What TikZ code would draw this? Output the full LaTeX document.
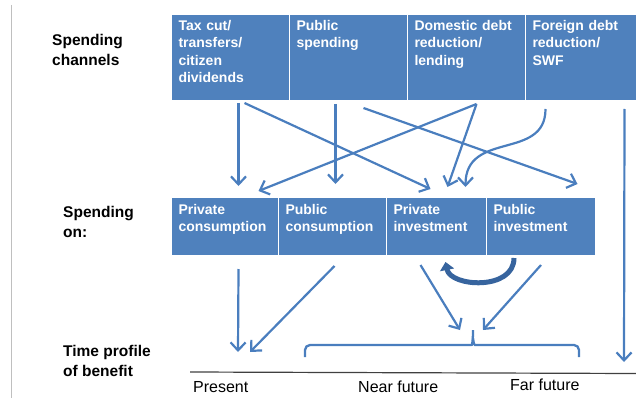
\documentclass[tikz,border=0pt]{standalone}
\usepackage{fontspec}
\setmainfont{Liberation Sans}
\usetikzlibrary{arrows.meta,calc}
\definecolor{boxblue}{RGB}{79,129,189}
\definecolor{flowblue}{RGB}{74,126,190}
\definecolor{loopblue}{RGB}{55,100,158}
\tikzset{
  chan/.style={draw=white, line width=1pt, fill=boxblue, text=white, anchor=north west,
    font=\bfseries\fontsize{14}{17.4}\selectfont, align=left, text width=104pt,
    text height=11pt, text depth=65pt, inner xsep=7pt, inner ysep=5pt},
  spend/.style={chan, text width=#1, text height=12pt, text depth=36pt},
  rowlabel/.style={anchor=base west, inner sep=0pt, align=left,
    font=\bfseries\fontsize{15.5}{19.5}\selectfont},
  timelabel/.style={anchor=base west, inner sep=0pt, font=\fontsize{16}{19}\selectfont},
  flow/.style={draw=flowblue, line width=2.2pt, -{Straight Barb[length=8pt,width=15pt]}},
  feedback/.style={draw=loopblue, line width=5pt, -{Triangle[length=8pt,width=14pt]}},
  bracket/.style={draw=flowblue, line width=2.3pt, rounded corners=5pt},
}
\begin{document}
\begin{tikzpicture}[x=1pt,y=-1pt]
\useasboundingbox (0,0) rectangle (636,398);
\draw[black!25, line width=1pt] (11,5) -- (11,398);

% row labels (anchored at the last line)
\node[rowlabel] (lchan) at (52,65.5) {Spending\\channels};
\node[rowlabel] (lon) at (63,237) {Spending\\on:};
\node[rowlabel] (lprof) at (63,376) {Time profile\\of benefit};

% spending channels
\node[chan] (tax) at (171,14) {Tax cut/\\transfers/\\citizen\\dividends};
\node[chan] (pubs) at (289,14) {Public\\spending};
\node[chan] (dom) at (407,14) {Domestic debt\\reduction/\\lending};
\node[chan] (frn) at (525,14) {Foreign debt\\reduction/\\SWF};

% spending on
\node[spend=93pt] (pcons) at (171,197) {Private\\consumption};
\node[spend=94pt] (pubc) at (278,197) {Public\\consumption};
\node[spend=86pt] (pinv) at (386,197) {Private\\investment};
\node[spend=95pt] (puinv) at (486,197) {Public\\investment};

% time axis
\coordinate (tl0) at (190,372);
\coordinate (tl1) at (636,373.5);
\draw[black!75, line width=1.2pt] (tl0) -- (tl1);
\node[timelabel] (present) at (193,392) {Present};
\node[timelabel] (near) at (358,392) {Near future};
\node[timelabel] (far) at (510,390) {Far future};

% brace over near/far future
\coordinate (brace) at (473,330);
\draw[bracket] (305,357) |- (466,345) .. controls (472,345) .. (473,338) -- (brace);
\draw[bracket] (473,338) .. controls (474,345) .. (480,345) -| (579,357);

% channels -> spending
\coordinate (now) at (244,352);
\coordinate (farend) at (624,362);
\draw[flow] ($(tax.south)+(8,2)$) -- ($(pcons.north)+(13.5,-11)$);
\draw[flow] ($(tax.south)+(14,2)$) -- ($(pinv.north)+(-6,-8)$);
\draw[flow] ($(pubs.south)+(-13,3)$) -- ($(pubc.north)+(3,-13)$);
\draw[flow] ($(pubs.south)+(15,7)$) -- ($(puinv.north)+(36.5,-13)$);
\draw[flow] ($(dom.south)+(10,3)$) -- ($(pcons.north)+(33.5,-6)$);
\draw[flow] ($(dom.south)+(10,3)$) -- ($(pinv.north)+(11,-10)$);
\draw[flow] ($(frn.south)+(-39,8)$) .. controls +(0,52) and +(0,-57) .. ($(pinv.north)+(29,-10)$);
\draw[flow] ($(frn.south)+(40,8)$) -- (farend);

% spending -> time profile
\draw[flow] ($(pcons.south)+(13.5,13)$) -- ($(now)+(-6,0)$);
\draw[flow] ($(pubc.south)+(2,10)$) -- ($(now)+(6,0)$);
\draw[flow] ($(pinv.south)+(-16,9)$) -- ($(brace)+(-13,0)$);
\draw[flow] ($(puinv.south)+(0,9)$) -- ($(brace)+(10,0)$);
\draw[feedback] ($(puinv.south)+(-27,2)$) .. controls +(0,33) and +(5,25) .. ($(pinv.south)+(9,6)$);
\end{tikzpicture}
\end{document}
